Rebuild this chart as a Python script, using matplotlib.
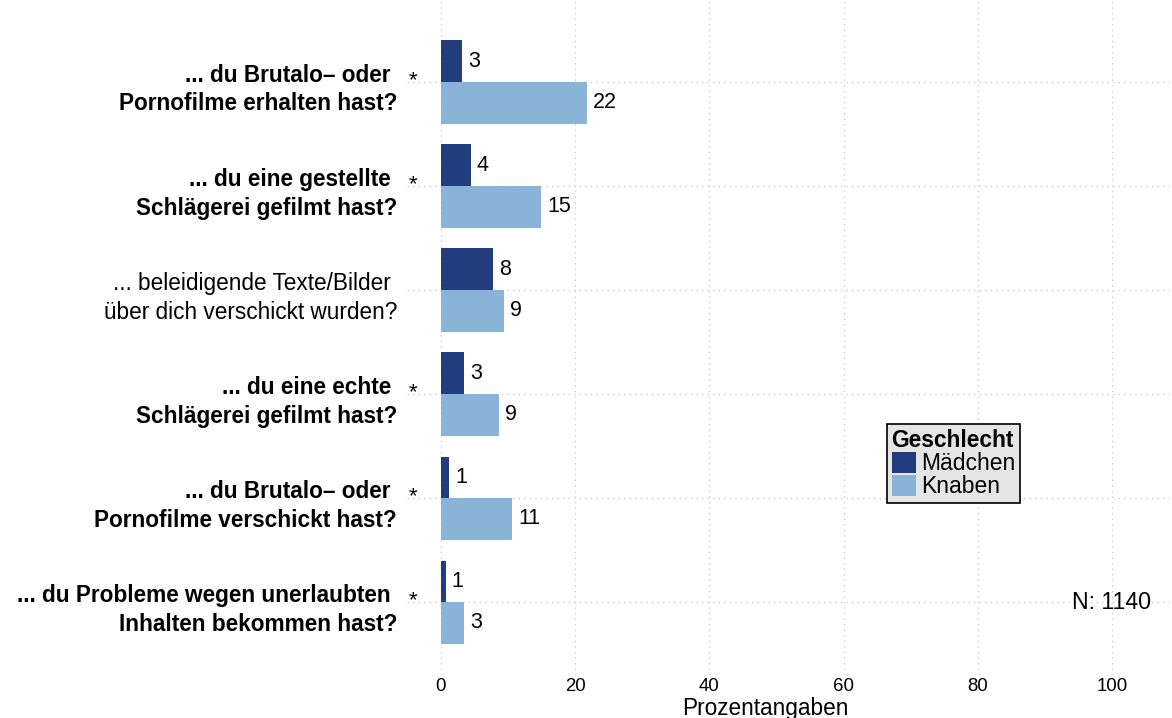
import matplotlib
matplotlib.use("Agg")
import matplotlib.pyplot as plt
from matplotlib.patches import Patch
from matplotlib.transforms import offset_copy
import numpy as np

plt.rcParams["font.family"] = ["Liberation Sans", "DejaVu Sans"]

# Survey items ("Ist es schon vorgekommen, dass ...")
questions = [
    "... du Brutalo– oder \nPornofilme erhalten hast?",
    "... du eine gestellte \nSchlägerei gefilmt hast?",
    "... beleidigende Texte/Bilder \nüber dich verschickt wurden?",
    "... du eine echte \nSchlägerei gefilmt hast?",
    "... du Brutalo– oder \nPornofilme verschickt hast?",
    "... du Probleme wegen unerlaubten \nInhalten bekommen hast?",
]
significant = [True, True, False, True, True, True]

# Percentages by gender
maedchen = [3.1, 4.4, 7.7, 3.4, 1.2, 0.7]
knaben = [21.7, 14.9, 9.4, 8.6, 10.6, 3.4]

groups = ["Mädchen", "Knaben"]
colors = ["#223D7D", "#89B4D7"]
n_total = 1140
xticks = [0, 20, 40, 60, 80, 100]

fig = plt.figure(figsize=(11.72, 7.18), dpi=100)
ax = fig.add_axes([407 / 1172, 43 / 718, 765 / 1172, 675 / 718])

y = np.arange(len(questions))
h = 0.4
ax.barh(y - h / 2, maedchen, height=h, color=colors[0], zorder=3)
ax.barh(y + h / 2, knaben, height=h, color=colors[1], zorder=3)

for yi, v in zip(y - h / 2, maedchen):
    ax.text(v + 0.9, yi, f"{round(v)}", ha="left", va="center", fontsize=15.5, zorder=4)
for yi, v in zip(y + h / 2, knaben):
    ax.text(v + 0.9, yi, f"{round(v)}", ha="left", va="center", fontsize=15.5, zorder=4)

ax.set_xlim(-5.06, 108.9)
ax.set_ylim(5.70, -0.788)

ax.set_xticks(xticks)
ax.set_xticklabels([str(t) for t in xticks], fontsize=13.4)
ax.tick_params(axis="x", length=0, pad=2)
ax.set_yticks(y)
ax.set_yticklabels([])
ax.tick_params(axis="y", length=0)

ax.grid(True, color="#D0D0D0", linestyle=(0, (1, 3)), linewidth=1.0, zorder=0)
ax.set_axisbelow(True)
for sp in ax.spines.values():
    sp.set_visible(False)

# Question labels on the left, bold where the gender difference is significant
lab_tr = offset_copy(ax.get_yaxis_transform(), fig=fig, x=-10, y=0, units="dots")
star_tr = offset_copy(ax.get_yaxis_transform(), fig=fig, x=6, y=0, units="dots")
for yi, q, sig in zip(y, questions, significant):
    ax.text(0, yi + 0.075, q, transform=lab_tr, ha="right", va="center",
            fontsize=16.3, fontweight="bold" if sig else "normal",
            linespacing=1.3, clip_on=False)
    if sig:
        ax.text(0, yi - 0.01, "*", transform=star_tr, ha="center", va="center",
                fontsize=16, clip_on=False)

ax.text(105.7, y[-1], f"N: {n_total}", ha="right", va="center", fontsize=16.7)

fig.text(765 / 1172, 3 / 718, "Prozentangaben", ha="center", va="baseline", fontsize=16.3)

handles = [Patch(facecolor=c, edgecolor="none", label=g) for c, g in zip(colors, groups)]
leg = fig.legend(handles=handles, title="Geschlecht", loc="upper left",
                 bbox_to_anchor=(887 / 1172, 1 - 424 / 718), borderaxespad=0,
                 fontsize=16.5, title_fontproperties={"weight": "bold", "size": 16.4},
                 handlelength=1.05, handleheight=1.05, handletextpad=0.22,
                 labelspacing=0.0, borderpad=0.2, fancybox=False,
                 facecolor="#E5E5E5", edgecolor="black", framealpha=1)
leg._legend_box.align = "left"
leg.get_frame().set_linewidth(1.2)

fig.savefig("out.png", dpi=100)
